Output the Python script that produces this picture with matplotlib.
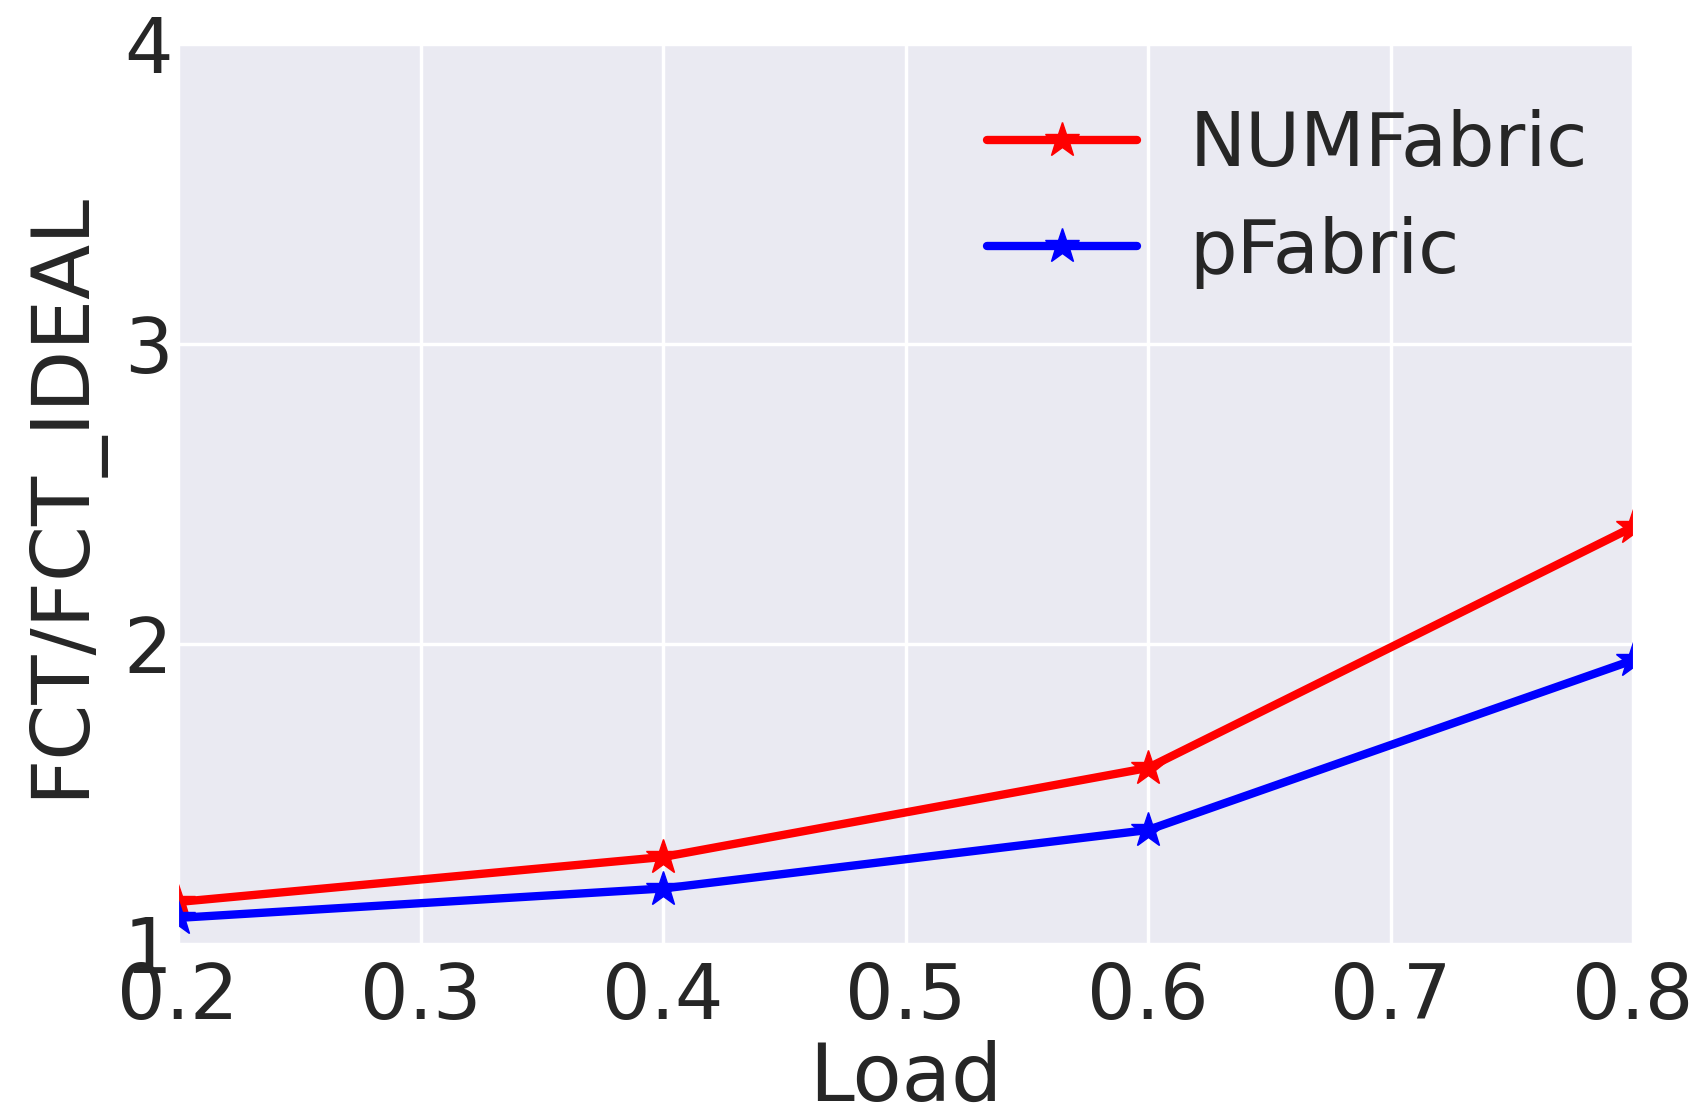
import matplotlib
matplotlib.use('Agg')
import matplotlib.pyplot as plt
import seaborn as sns

# data
load = [0.2, 0.4, 0.6, 0.8]
numfabric = [1.14, 1.29, 1.587, 2.39]
pfabric = [1.087, 1.185, 1.38, 1.946]
xticks = [0.2, 0.3, 0.4, 0.5, 0.6, 0.7, 0.8]
yticks = [1, 2, 3, 4]

sns.set_style('darkgrid')
plt.rcParams['font.family'] = ['DejaVu Sans']

fig = plt.figure(figsize=(17.01, 11.15), dpi=100)
ax = fig.add_axes([178 / 1701, 1 - 944 / 1115, (1633 - 178) / 1701, (944 - 44) / 1115])

ax.plot(load, numfabric, color='red', marker='*', markersize=26, linewidth=6, label='NUMFabric')
ax.plot(load, pfabric, color='blue', marker='*', markersize=26, linewidth=6, label='pFabric')

ax.set_xlim(0.2, 0.8)
ax.set_ylim(1, 4)
ax.set_xticks(xticks)
ax.set_yticks(yticks)
ax.tick_params(axis='both', labelsize=55, length=0, colors='#262626')
ax.tick_params(axis='x', pad=12)
ax.tick_params(axis='y', pad=4)
ax.grid(True, color='white', linewidth=2.5)

ax.set_xlabel('Load', fontsize=58, color='#262626', labelpad=4)
ax.set_ylabel('FCT/FCT_IDEAL', fontsize=58, color='#262626', labelpad=16)

leg = ax.legend(loc='upper right', bbox_to_anchor=(1.0, 0.978), fontsize=54, frameon=False,
                handlelength=2.0, handletextpad=0.7, borderaxespad=0.2, labelspacing=0.45)
for t in leg.get_texts():
    t.set_color('#262626')

plt.savefig('out.png', dpi=100)
